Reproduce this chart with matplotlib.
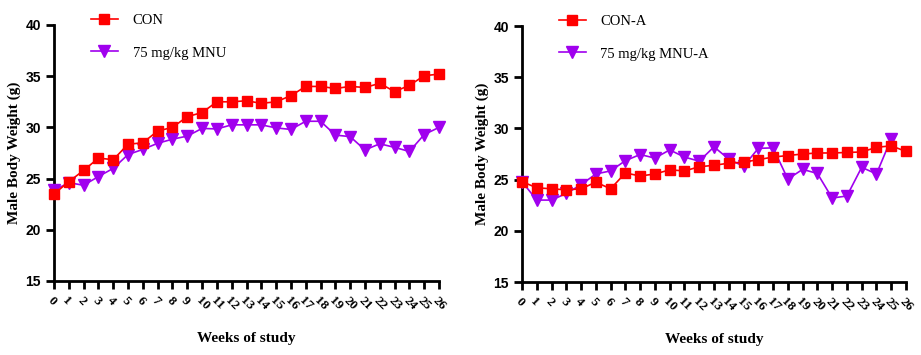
import numpy as np
import matplotlib
matplotlib.use("Agg")
import matplotlib.pyplot as plt

weeks = list(range(27))

con = [23.5, 24.7, 25.8, 27.0, 26.85, 28.35, 28.5, 29.65, 30.0, 31.05, 31.45, 32.5, 32.5,
       32.6, 32.35, 32.5, 33.1, 34.0, 34.0, 33.8, 34.0, 33.9, 34.3, 33.5, 34.1, 35.05, 35.2]
mnu = [23.85, 24.6, 24.35, 25.2, 26.0, 27.35, 27.85, 28.45, 28.85, 29.15, 29.9, 29.85, 30.25,
       30.25, 30.25, 29.95, 29.8, 30.6, 30.6, 29.25, 29.1, 27.8, 28.4, 28.05, 27.65, 29.3, 30.0]

con_a = [24.8, 24.2, 24.1, 24.0, 24.1, 24.75, 24.1, 25.65, 25.35, 25.55, 25.95, 25.85, 26.25,
         26.4, 26.6, 26.7, 26.95, 27.2, 27.35, 27.5, 27.6, 27.6, 27.65, 27.7, 28.15, 28.3, 27.75]
mnu_a = [24.8, 23.0, 23.0, 23.65, 24.5, 25.55, 25.85, 26.85, 27.45, 27.1, 27.9, 27.2, 26.8,
         28.2, 27.0, 26.3, 28.05, 28.1, 25.05, 26.0, 25.6, 23.2, 23.4, 26.2, 25.55, 29.0, np.nan]

labels_left = ["CON", "75 mg/kg MNU"]
labels_right = ["CON-A", "75 mg/kg MNU-A"]
yticks = [15, 20, 25, 30, 35, 40]

RED = "#FF0000"
PURPLE = "#A000EE"
SERIF = "Liberation Serif"
SANS = "Liberation Sans"

fig = plt.figure(figsize=(9.21, 3.55), dpi=100)
ax1 = fig.add_axes([54/921, 1-281/355, 385/921, 256/355])
ax2 = fig.add_axes([522/921, 1-282/355, 384/921, 256/355])

def draw(ax, a, b, labs):
    ax.plot(weeks, b, color=PURPLE, marker="v", markersize=8, linewidth=1.2,
            clip_on=False, zorder=3, label=labs[1])
    ax.plot(weeks, a, color=RED, marker="s", markersize=7.5, linewidth=1.2,
            clip_on=False, zorder=4, label=labs[0])
    ax.set_xlim(0, 26)
    ax.set_ylim(15, 40)
    ax.set_yticks(yticks)
    ax.set_xticks(weeks)
    for s in ["top", "right"]:
        ax.spines[s].set_visible(False)
    for s in ["left", "bottom"]:
        ax.spines[s].set_linewidth(2)
    ax.tick_params(axis="both", length=6, width=2, direction="out")
    ax.set_yticklabels([str(v) for v in yticks], fontfamily=SANS, fontweight="bold", fontsize=10)
    ax.set_xticklabels([str(w) for w in weeks], fontfamily=SERIF, fontweight="bold",
                       fontsize=9.5, rotation=-45, ha="left", va="top", rotation_mode="anchor")
    ax.set_ylabel("Male Body Weight (g)", fontfamily=SERIF, fontweight="bold", fontsize=11,
                  labelpad=3)
    ax.set_xlabel("Weeks of study", fontfamily=SERIF, fontweight="bold", fontsize=11,
                  labelpad=14)
    h, l = ax.get_legend_handles_labels()
    ax.legend([h[1], h[0]], [l[1], l[0]], loc="upper left", bbox_to_anchor=(0.096, 1.045),
              frameon=False, handlelength=1.85, handletextpad=1.0, labelspacing=1.35,
              borderpad=0, borderaxespad=0, prop={"family": SERIF, "size": 10.5})

draw(ax1, con, mnu, labels_left)
draw(ax2, con_a, mnu_a, labels_right)

fig.savefig("out.png", dpi=100)
